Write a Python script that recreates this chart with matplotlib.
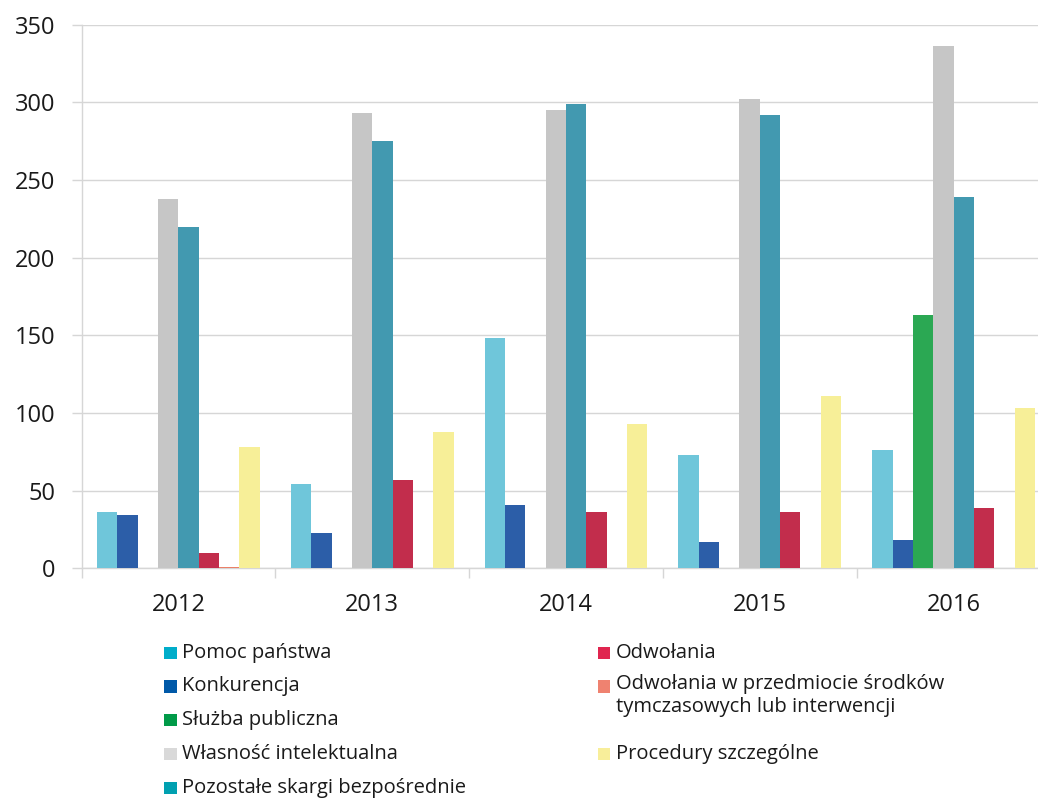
import matplotlib
matplotlib.use("Agg")
import matplotlib.pyplot as plt
from matplotlib.patches import Rectangle
import numpy as np

plt.rcParams['font.family'] = ['Open Sans', 'DejaVu Sans']

years = ['2012', '2013', '2014', '2015', '2016']
series_names = [
    'Pomoc państwa',
    'Konkurencja',
    'Służba publiczna',
    'Własność intelektualna',
    'Pozostałe skargi bezpośrednie',
    'Odwołania',
    'Odwołania w przedmiocie środków\ntymczasowych lub interwencji',
    'Procedury szczególne',
]
pomoc_panstwa = [36, 54, 148, 73, 76]
konkurencja = [34, 23, 41, 17, 18]
sluzba_publiczna = [0, 0, 0, 0, 163]
wlasnosc_intelektualna = [238, 293, 295, 302, 336]
pozostale_skargi = [220, 275, 299, 292, 239]
odwolania = [10, 57, 36, 36, 39]
odwolania_srodki = [1, 0, 0, 0, 0]
procedury_szczegolne = [78, 88, 93, 111, 103]

values = [pomoc_panstwa, konkurencja, sluzba_publiczna, wlasnosc_intelektualna,
          pozostale_skargi, odwolania, odwolania_srodki, procedury_szczegolne]

bar_colors = ['#6FC6DA', '#2C5EA8', '#2BA853', '#C6C6C6',
              '#4299B0', '#C22D4C', '#EB8068', '#F7EF98']
legend_colors = ['#00ADCA', '#0059A8', '#009A48', '#D9D9D9',
                 '#00A0B0', '#E0254F', '#EF8270', '#F8EE9A']

W, H = 1038, 798
fig = plt.figure(figsize=(W / 100, H / 100), dpi=100)
# the plot area runs past the right edge of the canvas
ax = fig.add_axes([81.5 / W, 1 - 568.3 / H, (1050.5 - 81.5) / W, (568.3 - 24.7) / H])

x = np.arange(len(years))
bw = 0.105
for j, (vals, col) in enumerate(zip(values, bar_colors)):
    ax.bar(x + (j - 3.5) * bw, vals, width=bw, color=col, linewidth=0, zorder=3)

grid_col = '#D6D6D6'
ax.set_xlim(-0.5, len(years) - 0.5)
ax.set_ylim(0, 350)
ax.set_yticks(np.arange(0, 351, 50))
ax.yaxis.grid(True, color=grid_col, linewidth=1.0, zorder=0)
ax.tick_params(axis='y', length=7, width=1.0, color=grid_col, pad=12,
               labelsize=17, labelcolor='#1A1A1A')

ax.set_xticks(np.arange(-0.5, len(years), 1.0))
ax.set_xticklabels([])
ax.tick_params(axis='x', which='major', length=7, width=1.0, color=grid_col)
ax.set_xticks(x, minor=True)
ax.set_xticklabels(years, minor=True)
ax.tick_params(axis='x', which='minor', length=0, pad=18,
               labelsize=17, labelcolor='#1A1A1A')

for side in ['top', 'right']:
    ax.spines[side].set_visible(False)
for side in ['left', 'bottom']:
    ax.spines[side].set_color(grid_col)
    ax.spines[side].set_linewidth(1.0)


def px(xp, yp):
    return xp / W, 1 - yp / H


# legend: two hand-placed columns
entries_pos = [
    (164, 653), (164, 686.5), (164, 720), (164, 754), (164, 788),
    (597.5, 653), (597.5, 686.5), (597.5, 754),
]
sq = 12.7
for name, col, (mx, my) in zip(series_names, legend_colors, entries_pos):
    fx, fy = px(mx, my + sq / 2)
    fig.add_artist(Rectangle((fx, fy), sq / W, sq / H, transform=fig.transFigure,
                             facecolor=col, edgecolor='none'))
    tx, ty = px(mx + 18.5, my)
    va = 'center'
    if '\n' in name:
        tx, ty = px(mx + 18.5, my - 12)
        va = 'top'
    fig.text(tx, ty, name, fontsize=14.5, color='#1A1A1A', va=va, ha='left',
             linespacing=1.15)

fig.savefig('out.png', dpi=100)
